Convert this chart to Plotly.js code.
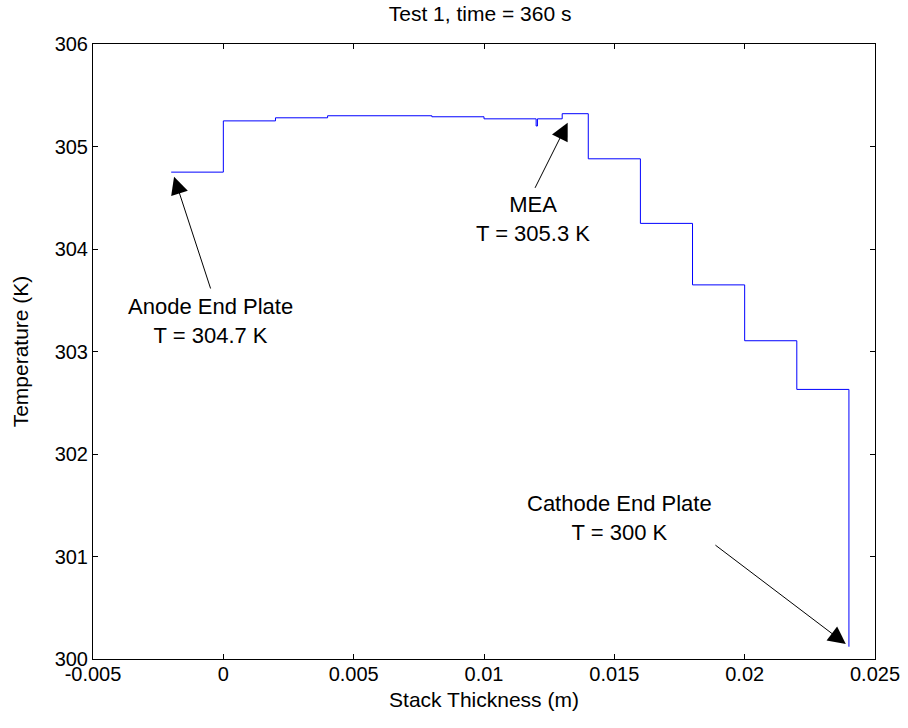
<!DOCTYPE html>
<html>
<head>
<meta charset="utf-8">
<script src="https://cdn.plot.ly/plotly-3.0.1.min.js"></script>
<style>html,body{margin:0;padding:0;background:#fff;}#chart{width:908px;height:728px;}</style>
</head>
<body>
<div id="chart"></div>
<script>
// Layer boundaries (m) and temperatures (K), drawn as a step profile
const thickness = [-0.002, 0, 0.002, 0.004, 0.008, 0.010, 0.012, 0.01205, 0.013, 0.014, 0.016, 0.018, 0.020, 0.022, 0.024];
const temperature = [304.75, 305.25, 305.28, 305.30, 305.29, 305.27, 305.20, 305.27, 305.32, 304.88, 304.25, 303.65, 303.105, 302.63, 300.12];

const xTicks = [-0.005, 0, 0.005, 0.01, 0.015, 0.02, 0.025];
const xTickLabels = ['-0.005', '0', '0.005', '0.01', '0.015', '0.02', '0.025'];
const yTicks = [300, 301, 302, 303, 304, 305, 306];

const labels = [
  {text: 'Anode End Plate<br>T = 304.7 K', x: -0.00051, y: 303.30, tip: [-0.00189, 304.705], tail: [-0.00047, 303.6]},
  {text: 'MEA<br>T = 305.3 K', x: 0.01188, y: 304.29, tip: [0.01321, 305.232], tail: [0.01193, 304.582]},
  {text: 'Cathode End Plate<br>T = 300 K', x: 0.01518, y: 301.38, tip: [0.02388, 300.146], tail: [0.01882, 301.122]}
];

const FONT = 'Arial, "Liberation Sans", sans-serif';
const tickSize = 20, labelSize = 21, annSize = 22, titleSize = 21;

const annotations = [];
labels.forEach(l => {
  annotations.push({
    x: l.x, y: l.y, xref: 'x', yref: 'y', text: l.text, showarrow: false,
    font: {family: FONT, size: annSize, color: '#000'}, align: 'center'
  });
  annotations.push({
    x: l.tip[0], y: l.tip[1], ax: l.tail[0], ay: l.tail[1],
    xref: 'x', yref: 'y', axref: 'x', ayref: 'y', text: '',
    showarrow: true, arrowhead: 2, arrowsize: 3.5, arrowwidth: 1, arrowcolor: '#000',
    standoff: 0, startstandoff: 0
  });
});

const trace = {
  x: thickness, y: temperature, type: 'scatter', mode: 'lines',
  line: {shape: 'hv', color: 'rgb(0,0,255)', width: 1},
  hoverinfo: 'none'
};

const axisCommon = {
  showline: true, linecolor: '#000', linewidth: 1, mirror: 'ticks',
  ticks: 'inside', ticklen: 5, tickwidth: 1, tickcolor: '#000',
  showgrid: false, zeroline: false,
  tickfont: {family: FONT, size: tickSize, color: '#000'}
};

const layout = {
  width: 908, height: 728,
  margin: {l: 93, r: 33, t: 44, b: 69},
  paper_bgcolor: '#fff', plot_bgcolor: '#fff',
  showlegend: false,
  title: {text: 'Test 1, time = 360 s', font: {family: FONT, size: titleSize, color: '#000'},
          xref: 'paper', x: 0.495, xanchor: 'center', yref: 'container', y: 0.981, yanchor: 'middle'},
  xaxis: Object.assign({}, axisCommon, {
    range: [-0.005, 0.025], tickvals: xTicks, ticktext: xTickLabels, ticklabelstandoff: -3,
    title: {text: 'Stack Thickness (m)', font: {family: FONT, size: labelSize, color: '#000'}, standoff: 8}
  }),
  yaxis: Object.assign({}, axisCommon, {
    range: [300, 306], tickvals: yTicks, ticktext: yTicks.map(String),
    title: {text: 'Temperature (K)', font: {family: FONT, size: labelSize, color: '#000'}, standoff: 20}
  }),
  annotations: annotations
};

Plotly.newPlot('chart', [trace], layout, {displayModeBar: false, staticPlot: true});
</script>
</body>
</html>
